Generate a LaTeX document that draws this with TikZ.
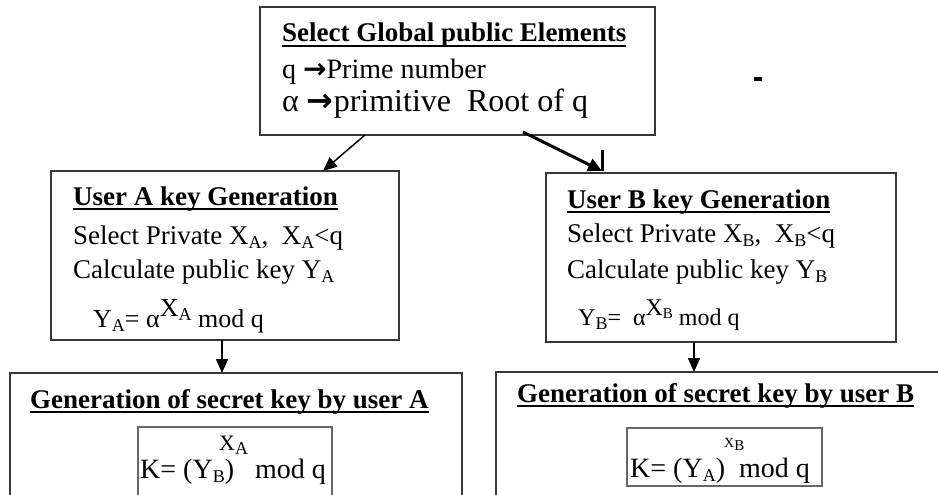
\documentclass[tikz,border=0pt]{standalone}
\usepackage{fontspec}
\setmainfont{Liberation Serif}
\newfontfamily\dvs{DejaVu Sans}
\usetikzlibrary{arrows.meta}
\newcommand\myul[1]{\setbox0\hbox{#1}\rlap{\rule[-4.5pt]{\wd0}{1.8pt}}\box0}
\newcommand\lw[1]{\raisebox{-4pt}{\fontsize{18}{18}\selectfont #1}}
\newcommand\lws[1]{\raisebox{-3pt}{\fontsize{15}{15}\selectfont #1}}
\newcommand\arrw{{\dvs\bfseries →}}
\begin{document}
\begin{tikzpicture}[x=1pt,y=-1pt,
  box/.style={draw=black!78, line width=1.3pt, anchor=north west, inner sep=0pt, outer sep=0pt},
  ibox/.style={draw=black!60, line width=1.3pt, anchor=north west, inner sep=0pt, outer sep=0pt},
  txt/.style={anchor=base west, inner sep=0pt, font=\fontsize{27}{30}\selectfont},
  btxt/.style={anchor=base west, inner sep=0pt, font=\fontsize{27}{30}\selectfont\bfseries},
  conn/.style={-{Triangle[length=14pt,width=12pt]}, line width=1.5pt, black},
  tconn/.style={-{Triangle[length=14pt,width=13pt]}, line width=3pt, black}]
\useasboundingbox (0,0) rectangle (938,495);
\clip (0,0) rectangle (938,495);
\fill[white] (0,0) rectangle (938,495);

% boxes
\node[box, minimum width=395pt, minimum height=128pt] (top) at (260,7) {};
\node[box, minimum width=348pt, minimum height=169pt] (boxA) at (51,171) {};
\node[box, minimum width=350pt, minimum height=169pt] (boxB) at (546,173) {};
\node[box, minimum width=452pt, minimum height=170pt] (secA) at (10,373) {};
\node[box, minimum width=480pt, minimum height=170pt] (secB) at (496,372) {};
\node[ibox, minimum width=194pt, minimum height=90pt] (kA) at (138,427) {};
\node[ibox, minimum width=195pt, minimum height=58pt] (kB) at (627,428) {};

% top texts
\node[btxt] (t1) at (282,42) {\myul{Select Global public Elements}};
\node[txt, font=\fontsize{28}{30}\selectfont] (t2) at (282,79) {q \arrw Prime number};
\node[txt, font=\fontsize{32}{34}\selectfont] (t3) at (282,111) {α \arrw primitive\ \ Root of q};
\node[draw=none, fill=black, minimum width=8pt, minimum height=4pt, inner sep=0pt] (dash) at (758,79) {};

% user A
\node[btxt] (a1) at (73,205) {\myul{User A key Generation}};
\node[txt] (a2) at (73,244) {Select Private X\lw{A},\ \ X\lw{A}<q};
\node[txt] (a3) at (73,278) {Calculate public key Y\lw{A}};
\node[txt, font=\fontsize{26}{28}\selectfont] (a4) at (93,327) {Y\lw{A}= α\raisebox{11pt}{X\lw{A}} mod q};

% user B
\node[btxt] (b1) at (567,208) {\myul{User B key Generation}};
\node[txt] (b2) at (567,242) {Select Private X\lw{B},\ \ X\lw{B}<q};
\node[txt] (b3) at (567,278) {Calculate public key Y\lw{B}};
\node[txt, font=\fontsize{24}{26}\selectfont] (b4) at (578,325) {Y\lw{B}=\ \ α\raisebox{10pt}{X\lws{B}} mod q};

% secret A
\node[btxt] (s1) at (30,408) {\myul{Generation of secret key by user A}};
\node[txt, font=\fontsize{22}{24}\selectfont] (s2) at (219,450) {X\lw{A}};
\node[txt, font=\fontsize{28}{30}\selectfont] (s3) at (140,478) {K= (Y\lw{B})\hspace{14pt} mod q};

% secret B
\node[btxt] (r1) at (517,402) {\myul{Generation of secret key by user B}};
\node[txt, font=\fontsize{14}{15}\selectfont] (r2) at (724,447) {X\lws{B}};
\node[txt, font=\fontsize{28}{30}\selectfont] (r3) at (630,477) {K= (Y\lw{A})\ \ mod q};

% connectors
\coordinate (pA1) at (365,135);
\coordinate (pA2) at (323,171);
\coordinate (pB1) at (523,132);
\coordinate (pB2) at (602,171);
\coordinate (st1) at (602,150);
\coordinate (dA1) at (222,340);
\coordinate (dA2) at (222,373);
\coordinate (dB1) at (694,342);
\coordinate (dB2) at (694,372);
\draw[conn] (pA1) -- (pA2);
\draw[tconn] (pB1) -- (pB2);
\draw[line width=3pt] (st1) -- (pB2);
\draw[conn] (dA1) -- (dA2);
\draw[conn] (dB1) -- (dB2);
\end{tikzpicture}
\end{document}
